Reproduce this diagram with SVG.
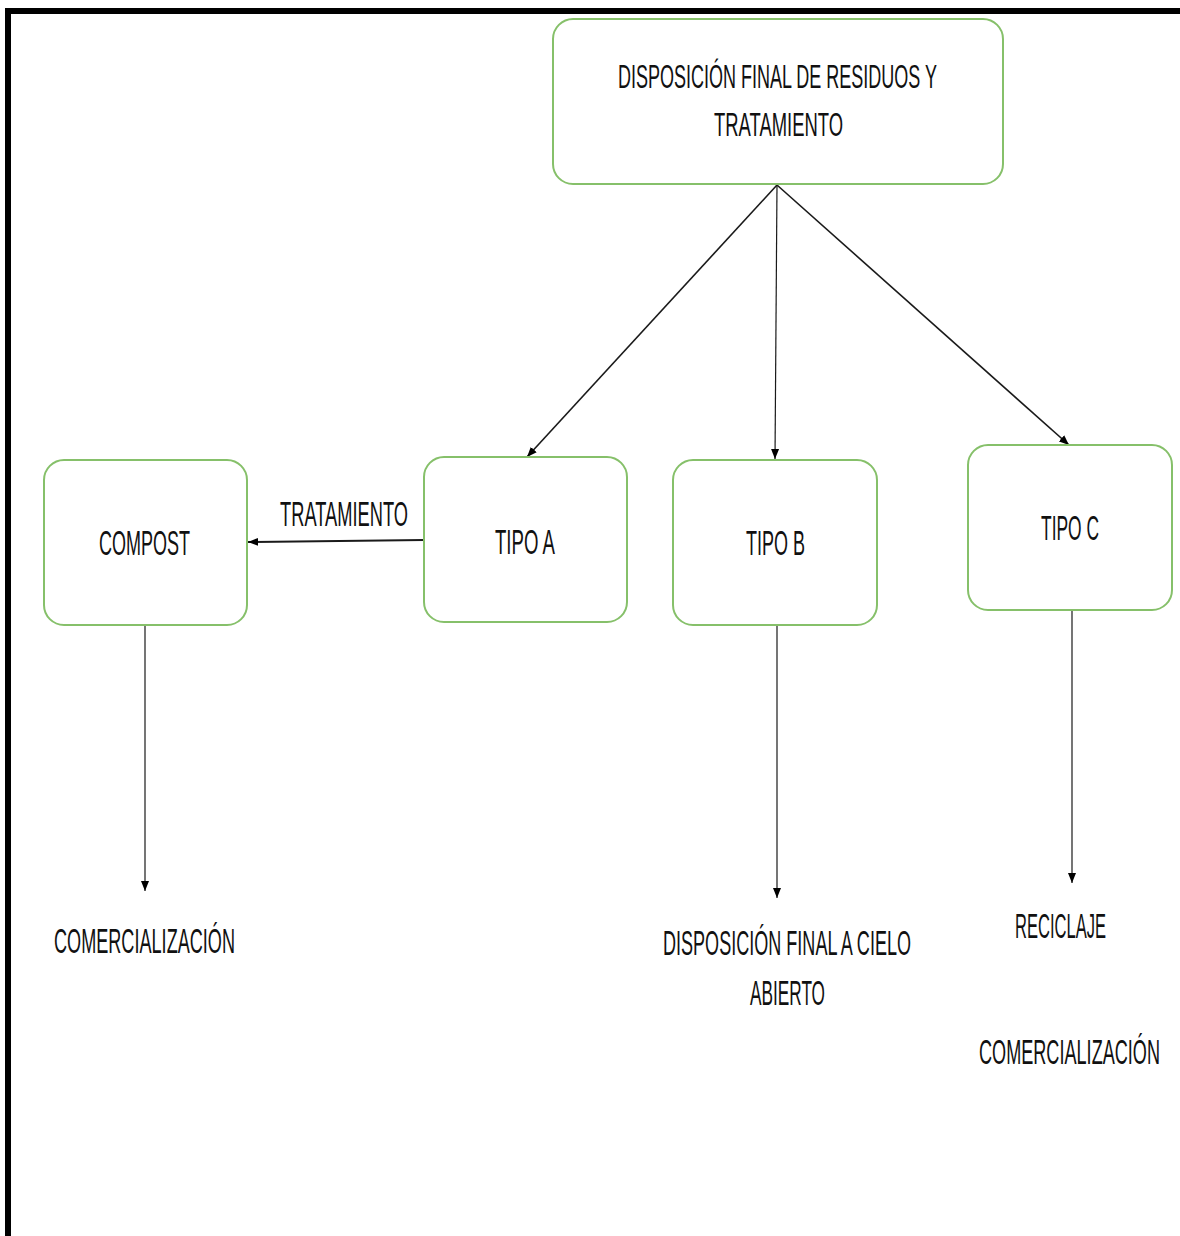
<svg xmlns="http://www.w3.org/2000/svg" width="1180" height="1236" viewBox="0 0 1180 1236">
<style>
.box{fill:#ffffff;stroke:#86c06a;stroke-width:2}
.t{font-family:"Liberation Sans",Arial,sans-serif;fill:#111111}
.tl{font-size:36px}
.ts{font-size:33px}
.ln{stroke:#1a1a1a;fill:none}
</style>
<defs>
<marker id="ah" viewBox="0 0 10 10" refX="10" refY="5" markerWidth="10" markerHeight="10" markerUnits="userSpaceOnUse" orient="auto">
<path d="M0,1 L10,5 L0,9 Z" fill="#000"/>
</marker>
</defs>
<rect x="0" y="0" width="1180" height="1236" fill="#ffffff"/>
<rect x="5" y="8" width="1175" height="6" fill="#000"/>
<rect x="5" y="8" width="6" height="1228" fill="#000"/>

<g id="connectors">
<line class="ln" stroke-width="1.6" x1="777" y1="185" x2="527" y2="457" marker-end="url(#ah)"/>
<line class="ln" stroke-width="1.2" x1="777" y1="185" x2="775" y2="459" marker-end="url(#ah)"/>
<line class="ln" stroke-width="1.6" x1="777" y1="185" x2="1069" y2="445" marker-end="url(#ah)"/>
<line class="ln" stroke-width="2" x1="424" y1="540" x2="248" y2="542" marker-end="url(#ah)"/>
<line class="ln" stroke-width="1.2" x1="145" y1="620" x2="145" y2="891" marker-end="url(#ah)"/>
<line class="ln" stroke-width="1.2" x1="777" y1="626" x2="777" y2="898" marker-end="url(#ah)"/>
<line class="ln" stroke-width="1.2" x1="1072" y1="610" x2="1072" y2="883" marker-end="url(#ah)"/>
<text class="t tl" transform="translate(280,526) scale(0.5,1)" x="0" y="0" textLength="256" lengthAdjust="spacingAndGlyphs">TRATAMIENTO</text>
</g>

<g id="node-main">
<rect class="box" x="553" y="19" width="450" height="165" rx="20"/>
<text class="t ts" transform="translate(618,88) scale(0.5,1)" x="0" y="0" textLength="638" lengthAdjust="spacingAndGlyphs">DISPOSICIÓN FINAL DE RESIDUOS Y</text>
<text class="t ts" transform="translate(714,136) scale(0.5,1)" x="0" y="0" textLength="258" lengthAdjust="spacingAndGlyphs">TRATAMIENTO</text>
</g>

<g id="node-compost">
<rect class="box" x="44" y="460" width="203" height="165" rx="20"/>
<text class="t tl" transform="translate(99,555) scale(0.5,1)" x="0" y="0" textLength="182" lengthAdjust="spacingAndGlyphs">COMPOST</text>
</g>

<g id="node-tipo-a">
<rect class="box" x="424" y="457" width="203" height="165" rx="20"/>
<text class="t tl" transform="translate(495,554) scale(0.5,1)" x="0" y="0" textLength="120" lengthAdjust="spacingAndGlyphs">TIPO A</text>
</g>

<g id="node-tipo-b">
<rect class="box" x="673" y="460" width="204" height="165" rx="20"/>
<text class="t tl" transform="translate(746,555) scale(0.5,1)" x="0" y="0" textLength="118" lengthAdjust="spacingAndGlyphs">TIPO B</text>
</g>

<g id="node-tipo-c">
<rect class="box" x="968" y="445" width="204" height="165" rx="20"/>
<text class="t tl" transform="translate(1041,540) scale(0.5,1)" x="0" y="0" textLength="116" lengthAdjust="spacingAndGlyphs">TIPO C</text>
</g>

<g id="node-comercializacion-1">
<text class="t tl" transform="translate(54,953) scale(0.5,1)" x="0" y="0" textLength="362" lengthAdjust="spacingAndGlyphs">COMERCIALIZACIÓN</text>
</g>

<g id="node-disposicion-cielo">
<text class="t tl" transform="translate(663,955) scale(0.5,1)" x="0" y="0" textLength="496" lengthAdjust="spacingAndGlyphs">DISPOSICIÓN FINAL A CIELO</text>
<text class="t tl" transform="translate(750,1005) scale(0.5,1)" x="0" y="0" textLength="150" lengthAdjust="spacingAndGlyphs">ABIERTO</text>
</g>

<g id="node-reciclaje">
<text class="t tl" transform="translate(1015,938) scale(0.5,1)" x="0" y="0" textLength="182" lengthAdjust="spacingAndGlyphs">RECICLAJE</text>
<text class="t tl" transform="translate(979,1064) scale(0.5,1)" x="0" y="0" textLength="362" lengthAdjust="spacingAndGlyphs">COMERCIALIZACIÓN</text>
</g>
</svg>
